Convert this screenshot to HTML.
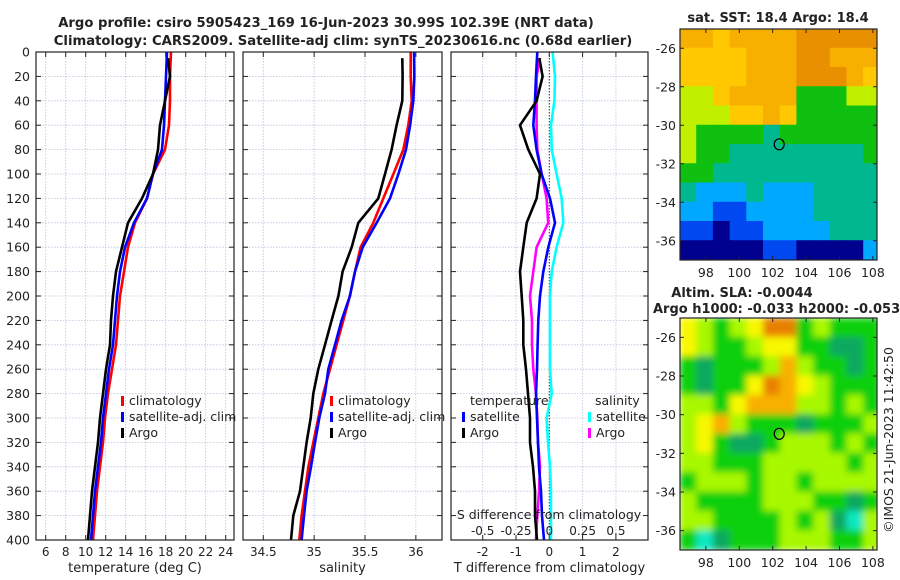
<!DOCTYPE html>
<html><head><meta charset="utf-8">
<style>
html,body{margin:0;padding:0;background:#fff;}
svg{display:block;font-family:"DejaVu Sans","Liberation Sans",sans-serif;}
</style></head>
<body>
<svg id="fig" width="900" height="580" viewBox="0 0 900 580" xmlns="http://www.w3.org/2000/svg"></svg>
<script>
// ---------- data ----------
const depths = [0,20,40,60,80,100,120,140,160,180,200,220,240,260,280,300,320,340,360,380,400];
const argoDepths = [5,20,40,60,80,100,120,140,160,180,200,220,240,260,280,300,320,340,360,380,400];
const tempClim = [18.53,18.43,18.43,18.33,17.93,16.73,16.13,14.93,14.23,13.83,13.43,13.23,13.03,12.63,12.23,11.93,11.73,11.43,11.13,10.93,10.73];
const tempSat  = [18.13,18.03,17.93,17.83,17.63,16.73,16.13,14.83,13.93,13.43,13.13,12.93,12.73,12.33,12.03,11.73,11.53,11.23,10.93,10.73,10.53];
const tempArgo = [18.23,18.43,17.93,17.43,17.23,16.73,15.63,14.23,13.63,13.03,12.73,12.53,12.43,12.03,11.73,11.43,11.23,10.93,10.63,10.43,10.23];
const salClim = [35.949,35.949,35.959,35.926,35.877,35.779,35.680,35.582,35.457,35.402,35.352,35.287,35.221,35.156,35.090,35.041,34.992,34.943,34.910,34.877,34.854];
const salSat  = [35.982,35.985,35.975,35.943,35.903,35.828,35.746,35.615,35.477,35.402,35.352,35.270,35.205,35.139,35.107,35.051,35.008,34.969,34.926,34.900,34.877];
const salArgo = [35.867,35.870,35.867,35.811,35.762,35.697,35.631,35.434,35.369,35.280,35.238,35.172,35.107,35.041,34.992,34.966,34.926,34.893,34.861,34.795,34.772];
const tDiffSat  = [-0.36,-0.40,-0.43,-0.48,-0.38,-0.23,0.02,0.17,-0.03,-0.18,-0.28,-0.33,-0.35,-0.37,-0.40,-0.37,-0.34,-0.31,-0.25,-0.22,-0.16];
const tDiffArgo = [-0.30,-0.20,-0.38,-0.88,-0.63,-0.28,-0.38,-0.68,-0.78,-0.88,-0.83,-0.78,-0.78,-0.70,-0.64,-0.58,-0.58,-0.49,-0.43,-0.43,-0.37];
const sDiffSat  = [0.025,0.043,0.038,0.013,0.018,0.055,0.093,0.105,0.055,0.018,0.005,0.005,0.005,0.005,0.018,-0.02,-0.01,0.005,0.013,0.013,0.013];
const sDiffArgo = [-0.07,-0.095,-0.095,-0.095,-0.09,-0.057,-0.02,-0.008,-0.095,-0.12,-0.145,-0.13,-0.13,-0.12,-0.10,-0.09,-0.085,-0.07,-0.077,-0.09,-0.10];
const depthTicks = [0,20,40,60,80,100,120,140,160,180,200,220,240,260,280,300,320,340,360,380,400];
const tempTicks = [6,8,10,12,14,16,18,20,22,24];
const salTicks = [34.5,35,35.5,36];
const tDiffTicks = [-2,-1,0,1,2];
const sDiffTicks = [-0.5,-0.25,0,0.25,0.5];
const sDiffTickLabels = ["-0.5","-0.25","0","0.25","0.5"];
const lonTicks = [98,100,102,104,106,108];
const latTicks = [-26,-28,-30,-32,-34,-36];
const argoLon = 102.39, argoLat = -30.99;
const sstGrid = ["776777788888","666677788777","666677788876","556777744455","555667644444","544443444444","544333333334","443333333333","322232223333","221122223333","110112222333","000001100002"];
const sstColors = ["#00008f","#0048f0","#00a8ff","#00b890","#10c010","#c0f000","#ffc800","#f8b000","#e89000"];
const slaGrid = ["432346623222","432234422112","212223532212","212246543222","332455533232","345322212223","342112333232","332223333323","233323323333","322223332212","332222323103","201222333223"];
const slaColors = ["#10e8c0","#10a860","#10d010","#a8f800","#f8f800","#f8b000","#e88000"];

// ---------- helpers ----------
const NS="http://www.w3.org/2000/svg";
const svg=document.getElementById('fig');
function mk(tag,attrs,parent){const e=document.createElementNS(NS,tag);for(const k in attrs)e.setAttribute(k,attrs[k]);(parent||svg).appendChild(e);return e;}
function txt(s,x,y,size,anchor,weight,parent){const t=mk('text',{x:x,y:y,'font-size':size,'text-anchor':anchor||'middle','font-weight':weight||'normal',fill:'#222'},parent);t.textContent=s;return t;}

const TOP=52, BOT=540;
const yD = d => TOP + (d/400)*(BOT-TOP);
const xT = t => 45.7 + (t-6)*10;
const xS = s => 263.3 + (s-34.5)*101.7;
const xTd = v => 549.3 + v*33.3;
const xSd = v => 549.3 + v*133.3;

let t1=txt("Argo profile: csiro 5905423_169 16-Jun-2023 30.99S 102.39E (NRT data)",326,27,13.2,'middle','bold');


let t2=txt("Climatology: CARS2009. Satellite-adj clim: synTS_20230616.nc (0.68d earlier)",343,45,13.2,'middle','bold');



function panel(name,x0,x1,xf,xticks,xlabels,xtitle){
  const g=mk('g',{});
  
  
  xticks.forEach(v=>{mk('line',{x1:xf(v),x2:xf(v),y1:TOP,y2:BOT,stroke:'#b8c4dc','stroke-width':0.8,'stroke-dasharray':'1.5,1.5'},g);});
  depthTicks.forEach(d=>{
    mk('line',{x1:x0,x2:x1,y1:yD(d),y2:yD(d),stroke:'#b8c4dc','stroke-width':0.8,'stroke-dasharray':'1.5,1.5'},g);
    mk('line',{x1:x0,x2:x0+5,y1:yD(d),y2:yD(d),stroke:'#222','stroke-width':1},g);
    mk('line',{x1:x1-5,x2:x1,y1:yD(d),y2:yD(d),stroke:'#222','stroke-width':1},g);
  });
  xticks.forEach((v,i)=>{
    mk('line',{x1:xf(v),x2:xf(v),y1:BOT,y2:BOT-5,stroke:'#222'},g);
    mk('line',{x1:xf(v),x2:xf(v),y1:TOP,y2:TOP+5,stroke:'#222'},g);
    const l=txt(xlabels[i],xf(v),556,12,'middle','normal',g);
    
    
  });
  const xt=txt(xtitle,(x0+x1)/2,572,13,'middle','normal',g);
  
  
  return g;
}
function frame(g,x0,x1){mk('rect',{x:x0,y:TOP,width:x1-x0,height:BOT-TOP,fill:'none',stroke:'#222','stroke-width':1.2},g);}
function line(g,xs,ds,xf,color,name){
  const p=mk('polyline',{points:xs.map((v,i)=>xf(v).toFixed(1)+','+yD(ds[i]).toFixed(1)).join(' '),fill:'none',stroke:color,'stroke-width':2.6,'stroke-linejoin':'round'},g);
  
  
}
function legend(g,x,y,color,label){
  mk('rect',{x:x,y:y-9,width:3,height:10,fill:color},g);
  const l=txt(label,x+8,y,12.5,'start','normal',g);
  
  
}

depthTicks.forEach(d=>{const l=txt(String(d),30,yD(d)+4.5,12.5,'end');
  
  });

let p1=panel('temperature-panel',36,234,xT,tempTicks,tempTicks.map(String),'temperature (deg C)');
line(p1,tempClim,depths,xT,'#ff0000','temp-climatology-line');
line(p1,tempSat,depths,xT,'#0000ff','temp-satellite-line');
line(p1,tempArgo,argoDepths,xT,'#000000','temp-argo-line');
legend(p1,121,405,'#ff0000','climatology');
legend(p1,121,421,'#0000ff','satellite-adj. clim');
legend(p1,121,437,'#000000','Argo');
frame(p1,36,234);

let p2=panel('salinity-panel',243,442,xS,salTicks,salTicks.map(String),'salinity');
line(p2,salClim,depths,xS,'#ff0000','sal-climatology-line');
line(p2,salSat,depths,xS,'#0000ff','sal-satellite-line');
line(p2,salArgo,argoDepths,xS,'#000000','sal-argo-line');
legend(p2,330,405,'#ff0000','climatology');
legend(p2,330,421,'#0000ff','satellite-adj. clim');
legend(p2,330,437,'#000000','Argo');
frame(p2,243,442);

let p3=panel('difference-panel',451,648,xTd,tDiffTicks,tDiffTicks.map(String),'T difference from climatology');
mk('line',{x1:xTd(0),x2:xTd(0),y1:TOP,y2:BOT,stroke:'#333','stroke-width':1,'stroke-dasharray':'1.5,1.5'},p3);
line(p3,sDiffSat,depths,xSd,'#00ffff','sdiff-satellite-line');
line(p3,sDiffArgo,argoDepths,xSd,'#ff00ff','sdiff-argo-line');
line(p3,tDiffSat,depths,xTd,'#0000ff','tdiff-satellite-line');
line(p3,tDiffArgo,argoDepths,xTd,'#000000','tdiff-argo-line');
let lt=txt('temperature',470,405,12.5,'start','normal',p3);


let ls=txt('salinity',595,405,12.5,'start','normal',p3);


legend(p3,462,421,'#0000ff','satellite');
legend(p3,462,437,'#000000','Argo');
legend(p3,588,421,'#00ffff','satellite');
legend(p3,588,437,'#ff00ff','Argo');
let st=txt('S difference from climatology',549,519,12.5,'middle','normal',p3);


sDiffTicks.forEach((v,i)=>{const l=txt(sDiffTickLabels[i],xSd(v),535,12,'middle','normal',p3);
  
  });
frame(p3,451,648);

const MX0=680,MX1=877;
const xL = lon => MX0 + (lon-96.45)*16.7;
const defs=mk('defs',{});
const f=mk('filter',{id:'blurf',x:'-10%',y:'-10%',width:'120%',height:'120%'},defs);
mk('feGaussianBlur',{stdDeviation:3.5},f);
function map(name,y0,y1,grid,colors,blur){
  const g=mk('g',{});
  
  
  const yL = lat => y0 + (-25-lat)*((y1-y0)/12);
  const cid=name+'-clip';
  const cp=mk('clipPath',{id:cid},g); mk('rect',{x:MX0,y:y0,width:MX1-MX0,height:y1-y0},cp);
  const inner=mk('g',{'clip-path':'url(#'+cid+')'},g);
  const cells=mk('g',blur?{filter:'url(#blurf)'}:{},inner);
  grid.forEach((row,r)=>{[...row].forEach((c,ci)=>{
    const lon=96.45+ci, lat=-25-r;
    const rc=mk('rect',{x:xL(lon)-0.5,y:yL(lat)-0.5,width:16.7+1,height:(y1-y0)/12+1,fill:colors[+c]},cells);
    
    
  });});
  const m=mk('ellipse',{cx:xL(argoLon),cy:yL(argoLat),rx:5,ry:5.5,fill:'none',stroke:'#000','stroke-width':1.2},g);
  
  
  mk('rect',{x:MX0,y:y0,width:MX1-MX0,height:y1-y0,fill:'none',stroke:'#222','stroke-width':1.2},g);
  lonTicks.forEach(v=>{mk('line',{x1:xL(v),x2:xL(v),y1:y1,y2:y1-4,stroke:'#222'},g);mk('line',{x1:xL(v),x2:xL(v),y1:y0,y2:y0+4,stroke:'#222'},g);
    const l=txt(String(v),xL(v),y1+17,12.5,'middle','normal',g);
    
    });
  latTicks.forEach(v=>{mk('line',{x1:MX0,x2:MX0+4,y1:yL(v),y2:yL(v),stroke:'#222'},g);mk('line',{x1:MX1-4,x2:MX1,y1:yL(v),y2:yL(v),stroke:'#222'},g);
    const l=txt(String(v),676,yL(v)+4.5,12.5,'end','normal',g);
    
    });
}
map('sst-map',29,260,sstGrid,sstColors,false);
map('sla-map',318,550,slaGrid,slaColors,true);
let m1=txt('sat. SST: 18.4 Argo: 18.4',778,22,13,'middle','bold');


let m2=txt('Altim. SLA: -0.0044',742,297,13,'middle','bold');


let m3=txt('Argo h1000: -0.033 h2000: -0.053',653,313,13,'start','bold');


let cr=txt('©IMOS 21-Jun-2023 11:42:50',0,0,12.5,'middle','normal');
cr.setAttribute('transform','translate(893,440) rotate(-90)');


</script>
</body></html>
